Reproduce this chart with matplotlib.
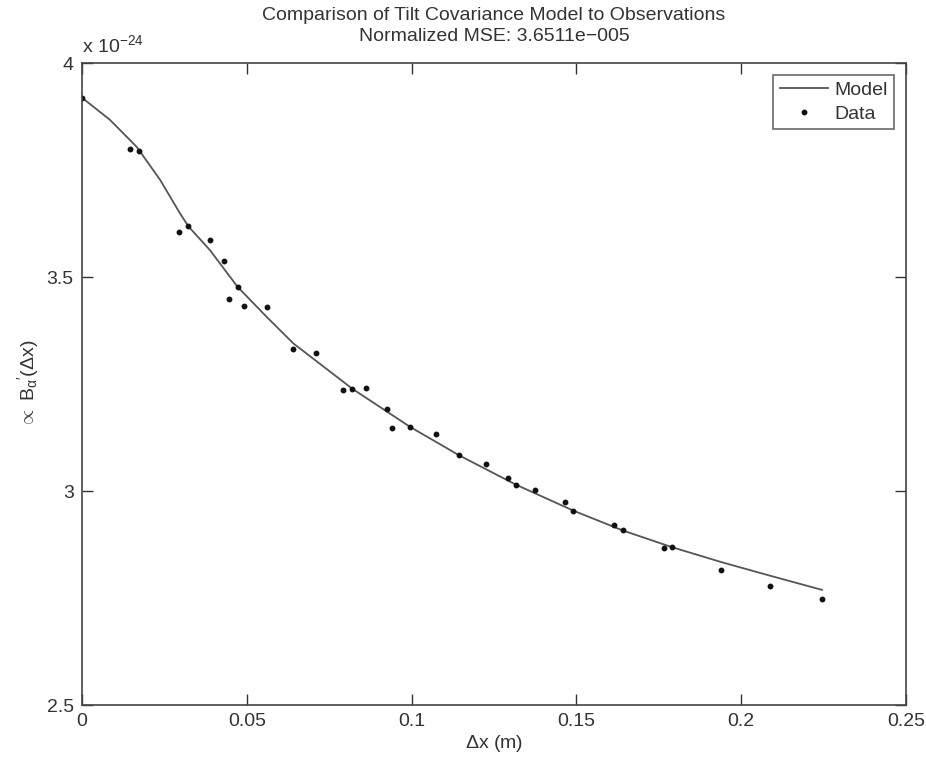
import matplotlib
matplotlib.use("Agg")
import matplotlib.pyplot as plt

plt.rcParams['font.family'] = ['Liberation Sans', 'DejaVu Sans']
plt.rcParams['mathtext.fontset'] = 'custom'
plt.rcParams['mathtext.rm'] = 'Liberation Sans'
plt.rcParams['mathtext.it'] = 'Liberation Sans'

# values in units of 1e-24
model_x = [0.0, 0.0085, 0.0166, 0.0237, 0.0297, 0.0323, 0.0388, 0.0472, 0.0560,
           0.0641, 0.0820, 0.0995, 0.1145, 0.1316, 0.1491, 0.1640, 0.1789,
           0.1939, 0.2088, 0.2245]
model_y = [3.919, 3.867, 3.804, 3.727, 3.649, 3.618, 3.563, 3.477, 3.407,
           3.345, 3.239, 3.150, 3.083, 3.015, 2.954, 2.908, 2.869,
           2.834, 2.802, 2.769]

data_x = [0.0, 0.0147, 0.0173, 0.0295, 0.0323, 0.0387, 0.0430, 0.0446, 0.0472,
          0.0492, 0.0561, 0.0641, 0.0711, 0.0791, 0.0820, 0.0862, 0.0925,
          0.0941, 0.0995, 0.1075, 0.1145, 0.1225, 0.1293, 0.1316, 0.1373,
          0.1465, 0.1491, 0.1615, 0.1640, 0.1765, 0.1789, 0.1939, 0.2088,
          0.2245]
data_y = [3.919, 3.798, 3.795, 3.606, 3.618, 3.586, 3.537, 3.449, 3.477,
          3.433, 3.431, 3.332, 3.322, 3.236, 3.239, 3.241, 3.192,
          3.147, 3.150, 3.133, 3.083, 3.064, 3.030, 3.015, 3.002,
          2.974, 2.954, 2.921, 2.908, 2.867, 2.869, 2.816, 2.777,
          2.748]

x_ticks = [0, 0.05, 0.1, 0.15, 0.2, 0.25]
x_tick_labels = ["0", "0.05", "0.1", "0.15", "0.2", "0.25"]
y_ticks = [2.5, 3, 3.5, 4]
y_tick_labels = ["2.5", "3", "3.5", "4"]

fig = plt.figure(figsize=(9.26, 7.6), dpi=100)
ax = fig.add_axes([82 / 926, 1 - 705 / 760, 824 / 926, 642 / 760])

ax.plot(model_x, model_y, color='#555555', linewidth=1.3, label="Model")
ax.plot(data_x, data_y, linestyle='none', marker='o', markersize=3.2,
        color='#111111', label="Data")

ax.set_xlim(0, 0.25)
ax.set_ylim(2.5, 4)
ax.set_xticks(x_ticks)
ax.set_xticklabels(x_tick_labels)
ax.set_yticks(y_ticks)
ax.set_yticklabels(y_tick_labels)
ax.tick_params(direction='in', length=8, width=1, top=True, right=True,
               labelsize=14, colors='#333333', pad=6)
for s in ax.spines.values():
    s.set_color('#444444')
    s.set_linewidth(1.2)

ax.set_xlabel(r"$\Delta$x (m)", fontsize=14, color='#333333', labelpad=2)
ax.set_ylabel(r"$\propto$ B$_\alpha$$^{\prime}$($\Delta$x)", fontsize=14,
              color='#333333', labelpad=4)
ax.set_title("Comparison of Tilt Covariance Model to Observations\n"
             "Normalized MSE: 3.6511e\u2212005", fontsize=14, color='#333333',
             linespacing=1.3, pad=16)
ax.text(0.0, 1.01, r"x 10$^{-24}$", transform=ax.transAxes, fontsize=14,
        color='#333333', va='bottom', ha='left')

leg = ax.legend(loc='upper right', fontsize=14, frameon=True, fancybox=False,
                handlelength=2.5, borderpad=0.35, labelspacing=0.3,
                handletextpad=0.3, borderaxespad=0.6)
leg.get_frame().set_edgecolor('#444444')
leg.get_frame().set_linewidth(1.2)
for t in leg.get_texts():
    t.set_color('#333333')

fig.savefig("out.png", dpi=100)
